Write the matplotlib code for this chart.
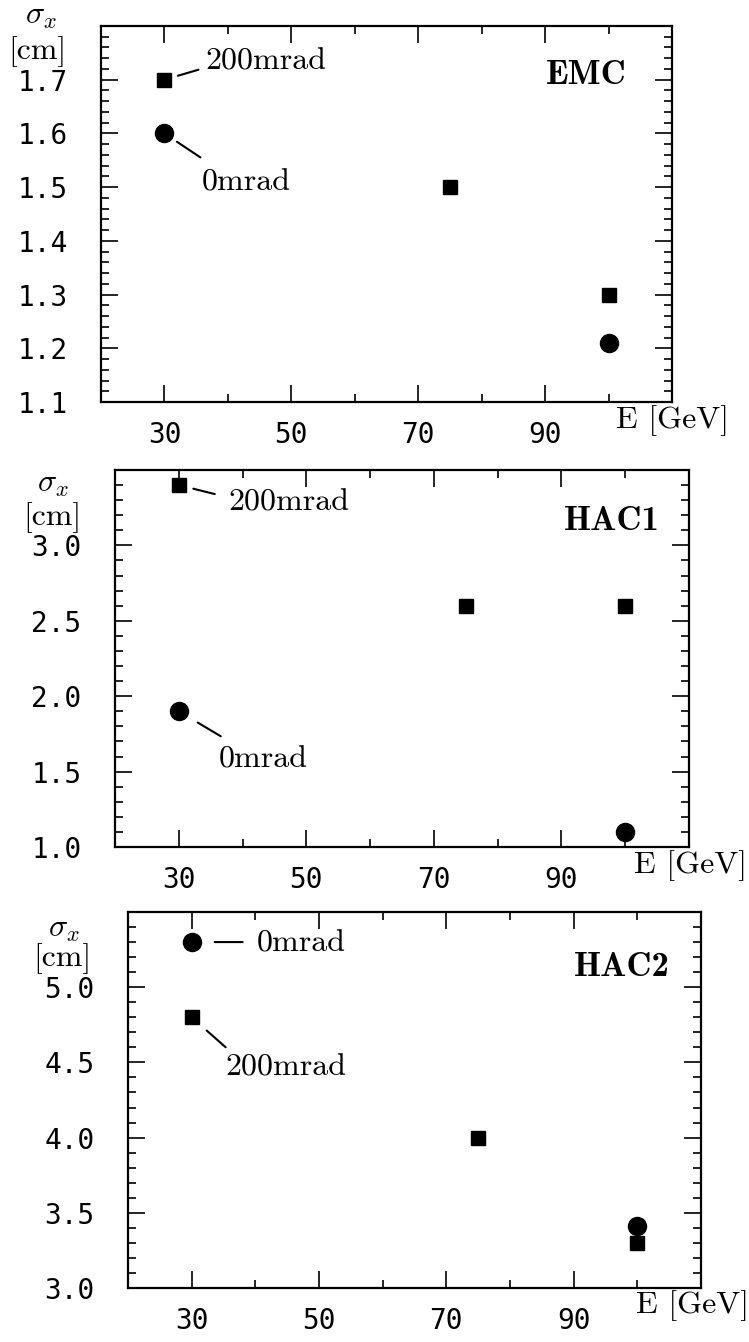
import matplotlib
matplotlib.use("Agg")
import matplotlib.pyplot as plt
from matplotlib.ticker import FixedLocator, FormatStrFormatter

plt.rcParams['mathtext.fontset'] = 'cm'
plt.rcParams['font.family'] = ['DejaVu Sans Mono']
plt.rcParams['axes.unicode_minus'] = False

# Beam energies [GeV]
energy_200mrad = [30, 75, 100]
energy_0mrad = [30, 100]

# Horizontal shower width sigma_x [cm] per calorimeter section
emc_200mrad = [1.70, 1.50, 1.30]
emc_0mrad = [1.60, 1.21]
hac1_200mrad = [3.40, 2.60, 2.60]
hac1_0mrad = [1.90, 1.10]
hac2_200mrad = [4.80, 4.00, 3.30]
hac2_0mrad = [5.30, 3.41]

panel_names = ['EMC', 'HAC1', 'HAC2']
y_limits = [(1.1, 1.8), (1.0, 3.5), (3.0, 5.5)]
y_labels = [[1.1, 1.2, 1.3, 1.4, 1.5, 1.6, 1.7],
            [1.0, 1.5, 2.0, 2.5, 3.0],
            [3.0, 3.5, 4.0, 4.5, 5.0]]
y_minor_step = [0.02, 0.1, 0.1]
x_limits = (20, 110)
x_major = [30, 50, 70, 90]
x_minor = [40, 60, 80, 100]

W, H = 749, 1342
fig = plt.figure(figsize=(W / 100, H / 100), dpi=100)

# axes boxes in pixels: left, top, width, height
boxes = [(101, 26, 571, 376), (115, 470, 574, 377), (128, 912, 573, 376)]

series = [(emc_200mrad, emc_0mrad), (hac1_200mrad, hac1_0mrad),
          (hac2_200mrad, hac2_0mrad)]

# (series, index, line start gap px, line end offset px, text offset px)
notes = [
    [('200', 0, 14, (34, 10), (41, 18)), ('0', 0, 15, (36, -24), (37, -49))],
    [('200', 0, 15, (36, -9), (50, -18)), ('0', 0, 22, (42, -25), (40, -49))],
    [('0', 0, 23, (51, 0), (65, -2)), ('200', 0, 20, (34, -30), (34, -51))],
]
name_pos = [(586, 76), (612, 522), (622, 967)]
sigma_pos = [(41, 16), (53, 484), (64, 928)]
cm_pos = [(37, 52), (52, 518), (62, 959)]
egev_pos = [(616, 421), (634, 866), (636, 1306)]

TXT = 23
ROMAN = 'cmr10'
BOLD = 'cmb10'


def fx(px):
    return px / W


def fy(py):
    return 1 - py / H


for i, (l, t, w, h) in enumerate(boxes):
    ax = fig.add_axes([l / W, 1 - (t + h) / H, w / W, h / H])
    s200, s0 = series[i]
    ax.plot(energy_200mrad, s200, ls='none', marker='s', ms=10.5,
            color='black', zorder=3)
    ax.plot(energy_0mrad, s0, ls='none', marker='o', ms=13,
            color='black', zorder=3)

    ax.set_xlim(*x_limits)
    ax.set_ylim(*y_limits[i])
    ax.xaxis.set_major_locator(FixedLocator(x_major))
    ax.xaxis.set_minor_locator(FixedLocator(x_minor))
    ax.yaxis.set_major_locator(FixedLocator(y_labels[i]))
    lo, hi = y_limits[i]
    step = y_minor_step[i]
    n = int(round((hi - lo) / step))
    minors = [lo + k * step for k in range(n + 1)]
    minors = [v for v in minors
              if all(abs(v - m) > 1e-6 for m in y_labels[i])]
    ax.yaxis.set_minor_locator(FixedLocator(minors))
    ax.yaxis.set_major_formatter(FormatStrFormatter('%.1f'))
    ax.tick_params(which='both', direction='in', top=True, right=True,
                   width=1.2, color='black')
    ax.tick_params(which='major', length=12)
    ax.tick_params(which='minor', length=6)
    ax.tick_params(axis='y', which='major', pad=24, labelsize=20)
    ax.tick_params(axis='x', which='major', pad=14, labelsize=20)
    for sp in ax.spines.values():
        sp.set_linewidth(1.6)

    for which, idx, near, far, toff in notes[i]:
        if which == '200':
            xy = (energy_200mrad[idx], s200[idx])
            label = '200mrad'
        else:
            xy = (energy_0mrad[idx], s0[idx])
            label = '0mrad'
        ax.annotate('', xy=xy, xytext=far, textcoords='offset pixels',
                    arrowprops=dict(arrowstyle='-', lw=1.5, color='black',
                                    shrinkA=0, shrinkB=near * 0.72))
        ax.annotate(label, xy=xy, xytext=toff, textcoords='offset pixels',
                    ha='left', va='center', fontsize=TXT, family=ROMAN)

    nx, ny = name_pos[i]
    fig.text(fx(nx), fy(ny), panel_names[i], ha='center', va='center',
             fontsize=25, family=BOLD)
    sx, sy = sigma_pos[i]
    fig.text(fx(sx), fy(sy), r'$\sigma_x$', ha='center', va='center',
             fontsize=TXT)
    cx, cy = cm_pos[i]
    fig.text(fx(cx), fy(cy), '[cm]', ha='center', va='center',
             fontsize=TXT, family=ROMAN)
    ex, ey = egev_pos[i]
    fig.text(fx(ex), fy(ey), 'E [GeV]', ha='left', va='center',
             fontsize=TXT, family=ROMAN)

fig.savefig('out.png', dpi=100, facecolor='white')
